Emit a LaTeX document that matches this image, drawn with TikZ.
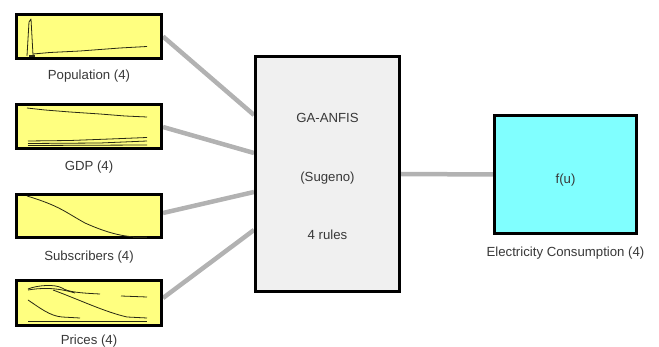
\documentclass[tikz,border=0pt]{standalone}
\usepackage{fontspec}
\setmainfont{Liberation Sans}
\usetikzlibrary{backgrounds}
\definecolor{inyellow}{RGB}{255,255,128}
\definecolor{outcyan}{RGB}{128,255,255}
\definecolor{fisgray}{RGB}{240,240,240}
\definecolor{wiregray}{RGB}{178,178,178}
\definecolor{mfline}{RGB}{40,40,20}
\begin{document}
\begin{tikzpicture}[x=1pt,y=-1pt,
  box/.style={draw=black,line width=3pt,inner sep=0pt},
  inbox/.style={box,fill=inyellow,minimum width=145pt,minimum height=44pt},
  lbl/.style={font=\fontsize{13.2}{15}\selectfont,text=black!78,inner sep=0pt},
  wire/.style={draw=wiregray,line width=4.5pt},
  mf/.style={draw=mfline,line width=0.8pt,line join=round}]
\useasboundingbox (0,0) rectangle (659,347);

% input boxes
\node[inbox] (pop) at (89,36.5) {};
\node[inbox] (gdp) at (89,126.5) {};
\node[inbox,minimum height=43pt] (sub) at (89,216) {};
\node[inbox,minimum height=45pt] (pri) at (89,303) {};

\node[lbl] (poplbl) at (89,76) {Population (4)};
\node[lbl] (gdplbl) at (89,167) {GDP (4)};
\node[lbl] (sublbl) at (89,257) {Subscribers (4)};
\node[lbl] (prilbl) at (89,341) {Prices (4)};

% FIS box
\node[box,fill=fisgray,minimum width=144pt,minimum height=235pt] (fis) at (327.5,174) {};
\node[lbl] (fis1) at (327.5,118) {GA-ANFIS};
\node[lbl] (fis2) at (327.5,178) {(Sugeno)};
\node[lbl] (fis3) at (327.5,235) {4 rules};

% output box
\node[box,fill=outcyan,minimum width=142pt,minimum height=118pt] (out) at (565.5,174.5) {};
\node[lbl] (outf) at (565.5,180) {f(u)};
\node[lbl] (outlbl) at (565.5,253) {Electricity Consumption (4)};

% connection points
\coordinate (c1) at (fis.west |- 0,115);
\coordinate (c2) at (fis.west |- 0,153);
\coordinate (c3) at (fis.west |- 0,192);
\coordinate (c4) at (fis.west |- 0,230);
\coordinate (s2) at (gdp.east |- 0,127);
\coordinate (s3) at (sub.east |- 0,213);
\coordinate (s4) at (pri.east |- 0,298);

\begin{scope}[on background layer]
  \draw[wire] (pop.east) -- (c1);
  \draw[wire] (s2) -- (c2);
  \draw[wire] (s3) -- (c3);
  \draw[wire] (s4) -- (c4);
  \draw[wire] (fis.east) -- (out.west);
\end{scope}

% membership curves: Population
\draw[mf] (27,56) -- (29,22) -- (31,19) -- (33,55);
\draw[mf] (33,54) -- (50,52.5) -- (80,51) -- (100,49.5) -- (120,48) -- (147,46.5);
\draw[mf,line width=1.5pt] (29,56) -- (35,56);
% GDP
\draw[mf] (27,108) -- (45,110) -- (70,112) -- (100,114) -- (125,116) -- (147,117);
\draw[mf] (28,141) -- (70,140.5) -- (110,139) -- (147,137.5);
\draw[mf] (28,143.5) -- (100,143) -- (147,141);
\draw[mf] (28,145.5) -- (147,145);
% Subscribers
\draw[mf] (27,196) .. controls (60,206) and (65,212) .. (85,223)
  .. controls (105,232) and (120,236) .. (135,237) -- (147,237);
\draw[mf,line width=1.5pt] (133,237.5) -- (147,237.5);
% Prices
\draw[mf] (28,289) .. controls (38,285) and (55,284) .. (62,288)
  .. controls (68,292) and (80,293) .. (100,294);
\draw[mf] (121,296) -- (147,297);
\draw[mf] (28,290) .. controls (40,288) and (55,287) .. (75,293);
\draw[mf] (28,300) .. controls (40,308) and (50,316) .. (62,317) -- (80,318);
\draw[mf] (53,290) .. controls (80,300) and (105,312) .. (127,317) -- (147,318);
\draw[mf] (28,321.5) -- (147,321.5);
\end{tikzpicture}
\end{document}
